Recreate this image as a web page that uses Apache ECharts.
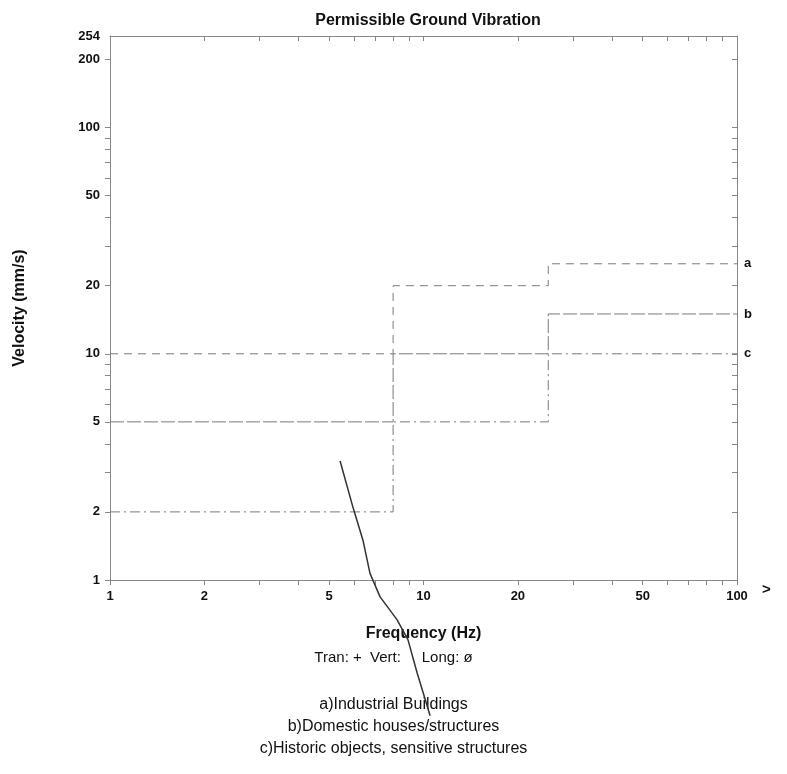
<!DOCTYPE html>
<html>
<head>
    <meta charset="utf-8">
    <title>Permissible Ground Vibration</title>
    <script src="https://cdn.jsdelivr.net/npm/echarts@6.0.0/dist/echarts.min.js"></script>
    <style>
        html, body { margin: 0; padding: 0; background: #fff; }
    </style>
</head>
<body>
<div id="main" style="width: 787px;height:774px;"></div>

<script type="text/javascript">
    // limit steps (frequency Hz -> velocity mm/s)
    var freqSteps = [1, 8, 8, 25, 25, 100];
    var lineA = [10, 10, 20, 20, 25, 25];
    var lineB = [5, 5, 10, 10, 15, 15];
    var lineC = [2, 2, 5, 5, 10, 10];

    // stray pen stroke across the sheet
    var strokeFreq = [5.42, 5.96, 6.41, 6.75, 7.27, 8.23, 8.92, 9.53, 10.5];
    var strokeVel = [3.36, 2.09, 1.5, 1.07, 0.842, 0.668, 0.545, 0.391, 0.251];

    var xTicks = [1, 2, 3, 4, 5, 6, 7, 8, 9, 10, 20, 30, 40, 50, 60, 70, 80, 90, 100];
    var yTicks = [1, 2, 3, 4, 5, 6, 7, 8, 9, 10, 20, 30, 40, 50, 60, 70, 80, 90, 100, 200];
    var xLabels = [1, 2, 5, 10, 20, 50, 100];
    var yLabels = [1, 2, 5, 10, 20, 50, 100, 200, 254];

    var font = 'Liberation Sans';

    function pairs(xs, ys) {
        var out = [];
        for (var i = 0; i < xs.length; i++) {
            out.push([xs[i], ys[i]]);
        }
        return out;
    }

    function limitLine(name, vals, dash) {
        return {
            name: name,
            type: 'line',
            data: pairs(freqSteps, vals),
            symbol: 'none',
            lineStyle: { color: '#7a7a7a', width: 1, type: dash },
            endLabel: {
                show: true,
                formatter: name,
                color: '#111',
                fontWeight: 'bold',
                fontSize: 13,
                fontFamily: font,
                distance: 7
            },
            z: 3
        };
    }

    var axisLine = { show: true, lineStyle: { color: '#888', width: 1 } };

    var myChart = echarts.init(document.getElementById('main'));

    myChart.setOption({
        animation: false,
        backgroundColor: '#fff',
        title: {
            text: 'Permissible Ground Vibration',
            left: 423,
            textAlign: 'center',
            top: 8,
            textStyle: { fontSize: 16, fontWeight: 'bold', color: '#111', fontFamily: font }
        },
        grid: { left: 110, right: 50, top: 36, bottom: 194 },
        xAxis: [
            {
                type: 'log',
                logBase: 10,
                min: 1,
                max: 100,
                name: 'Frequency (Hz)',
                nameLocation: 'middle',
                nameGap: 46,
                nameTextStyle: { fontSize: 16, fontWeight: 'bold', color: '#111', fontFamily: font },
                axisLine: axisLine,
                axisTick: { show: true, customValues: xTicks, length: 5, lineStyle: { color: '#888' } },
                axisLabel: {
                    customValues: xLabels,
                    color: '#111', fontWeight: 'bold', fontSize: 13, fontFamily: font, margin: 10
                },
                splitLine: { show: false }
            },
            {
                type: 'log',
                logBase: 10,
                min: 1,
                max: 100,
                position: 'top',
                axisLine: axisLine,
                axisTick: { show: true, customValues: xTicks, inside: true, length: 5, lineStyle: { color: '#888' } },
                axisLabel: { show: false },
                splitLine: { show: false }
            }
        ],
        yAxis: [
            {
                type: 'log',
                logBase: 10,
                min: 1,
                max: 254,
                name: 'Velocity (mm/s)',
                nameLocation: 'middle',
                nameGap: 82,
                nameTextStyle: { fontSize: 16, fontWeight: 'bold', color: '#111', fontFamily: font },
                axisLine: axisLine,
                axisTick: { show: true, customValues: yTicks, length: 5, lineStyle: { color: '#888' } },
                axisLabel: {
                    customValues: yLabels,
                    color: '#111', fontWeight: 'bold', fontSize: 13, fontFamily: font, margin: 10
                },
                splitLine: { show: false }
            },
            {
                type: 'log',
                logBase: 10,
                min: 1,
                max: 254,
                position: 'right',
                axisLine: axisLine,
                axisTick: { show: true, customValues: yTicks, inside: true, length: 5, lineStyle: { color: '#888' } },
                axisLabel: { show: false },
                splitLine: { show: false }
            }
        ],
        series: [
            limitLine('a', lineA, [8, 6]),
            limitLine('b', lineB, [14, 3]),
            limitLine('c', lineC, [10, 4, 2, 4]),
            {
                name: 'stroke',
                type: 'line',
                data: pairs(strokeFreq, strokeVel),
                symbol: 'none',
                smooth: false,
                clip: false,
                lineStyle: { color: '#333', width: 1.5, join: 'round' },
                z: 5
            }
        ],
        graphic: [
            {
                type: 'text', left: 762, top: 582,
                style: { text: '>', fill: '#111', font: 'bold 15px ' + font }
            },
            {
                type: 'text', left: 'center', top: 650,
                style: { text: 'Tran: +  Vert:     Long: ø', fill: '#111', font: '15px ' + font }
            },
            {
                type: 'text', left: 'center', top: 697,
                style: { text: 'a)Industrial Buildings', fill: '#111', font: '16px ' + font }
            },
            {
                type: 'text', left: 'center', top: 719,
                style: { text: 'b)Domestic houses/structures', fill: '#111', font: '16px ' + font }
            },
            {
                type: 'text', left: 'center', top: 741,
                style: { text: 'c)Historic objects, sensitive structures', fill: '#111', font: '16px ' + font }
            }
        ]
    });
</script>
</body>
</html>
